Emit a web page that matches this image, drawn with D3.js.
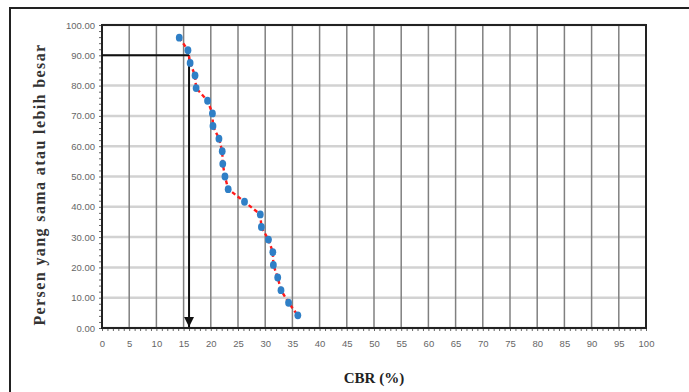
<!DOCTYPE html>
<html>
<head>
<meta charset="utf-8">
<script src="https://cdn.jsdelivr.net/npm/d3@7"></script>
<style>
  body { margin: 0; background: #fff; }
  svg { display: block; }
</style>
</head>
<body>
<div id="chart"></div>
<script>
// CBR values (sorted) and percent equal or greater
var cbr = [14.2, 15.8, 16.2, 17.1, 17.3, 19.4, 20.3, 20.4, 21.5, 22.1, 22.2, 22.6,
           23.2, 26.2, 29.1, 29.3, 30.6, 31.4, 31.5, 32.3, 32.9, 34.3, 36.0];
var persen = [95.83, 91.67, 87.50, 83.33, 79.17, 75.00, 70.83, 66.67, 62.50, 58.33,
              54.17, 50.00, 45.83, 41.67, 37.50, 33.33, 29.17, 25.00, 20.83, 16.67,
              12.50, 8.33, 4.17];
var xTicks = [0, 5, 10, 15, 20, 25, 30, 35, 40, 45, 50, 55, 60, 65, 70, 75, 80, 85, 90, 95, 100];
var yTicks = [0, 10, 20, 30, 40, 50, 60, 70, 80, 90, 100];
// 90% reading line -> CBR design value
var bacaPersen = 90, bacaCbr = 16;

var width = 689, height = 392;
var margin = {top: 25, right: 43, bottom: 64, left: 102};

var svg = d3.select("#chart").append("svg")
  .attr("width", width)
  .attr("height", height);

// outer frame (runs off right and bottom)
svg.append("rect")
  .attr("x", 10).attr("y", 8)
  .attr("width", 720).attr("height", 420)
  .attr("fill", "none")
  .attr("stroke", "#222")
  .attr("stroke-width", 2);

var x = d3.scaleLinear().domain([0, 100]).range([margin.left, width - margin.right]);
var y = d3.scaleLinear().domain([0, 100]).range([height - margin.bottom, margin.top]);

var g = svg.append("g");

// horizontal grid
g.append("g").selectAll("line")
  .data(yTicks)
  .enter().append("line")
  .attr("x1", x(0)).attr("x2", x(100))
  .attr("y1", function(d) { return y(d); })
  .attr("y2", function(d) { return y(d); })
  .style("stroke", "#d2d2d2")
  .style("stroke-width", 2.5);

// vertical grid
g.append("g").selectAll("line")
  .data(xTicks)
  .enter().append("line")
  .attr("x1", function(d) { return x(d); })
  .attr("x2", function(d) { return x(d); })
  .attr("y1", y(0)).attr("y2", y(100))
  .style("stroke", "#808080")
  .style("stroke-width", 1.5);

// minor ticks
g.append("g")
  .attr("transform", "translate(0," + y(0) + ")")
  .call(d3.axisBottom(x).ticks(100).tickSize(3).tickFormat(""))
  .call(function(a) { a.select(".domain").remove(); a.selectAll("line").style("stroke", "#666"); });
g.append("g")
  .attr("transform", "translate(" + x(0) + ",0)")
  .call(d3.axisLeft(y).ticks(50).tickSize(3).tickFormat(""))
  .call(function(a) { a.select(".domain").remove(); a.selectAll("line").style("stroke", "#666"); });

// plot border
g.append("rect")
  .attr("x", x(0)).attr("y", y(100))
  .attr("width", x(100) - x(0)).attr("height", y(0) - y(100))
  .attr("fill", "none")
  .style("stroke", "#222")
  .style("stroke-width", 2);

// tick labels
var xAxis = g.append("g")
  .attr("transform", "translate(0," + y(0) + ")")
  .call(d3.axisBottom(x).tickValues(xTicks).tickSize(0).tickPadding(12).tickFormat(d3.format("d")));
xAxis.select(".domain").remove();

var yAxis = g.append("g")
  .attr("transform", "translate(" + x(0) + ",0)")
  .call(d3.axisLeft(y).tickValues(yTicks).tickSize(0).tickPadding(7).tickFormat(d3.format(".2f")));
yAxis.select(".domain").remove();

svg.selectAll(".tick text")
  .style("font-family", "'Liberation Sans Narrow', 'Liberation Sans', sans-serif")
  .style("font-size", "9.5px")
  .style("fill", "#666");

// reading line with arrow
svg.append("defs").append("marker")
  .attr("id", "panah")
  .attr("viewBox", "0 0 10 10")
  .attr("refX", 10).attr("refY", 5)
  .attr("markerWidth", 5).attr("markerHeight", 5)
  .attr("orient", "auto")
  .append("path")
  .attr("d", "M0,0 L10,5 L0,10 z")
  .attr("fill", "#111");

g.append("line")
  .attr("x1", x(0)).attr("x2", x(bacaCbr))
  .attr("y1", y(bacaPersen)).attr("y2", y(bacaPersen))
  .style("stroke", "#111").style("stroke-width", 2);
g.append("line")
  .attr("x1", x(bacaCbr)).attr("x2", x(bacaCbr))
  .attr("y1", y(bacaPersen)).attr("y2", y(0) - 1)
  .style("stroke", "#111").style("stroke-width", 2)
  .attr("marker-end", "url(#panah)");

// data line
var data = cbr.map(function(d, i) { return {cbr: d, persen: persen[i]}; });

var line = d3.line()
  .x(function(d) { return x(d.cbr); })
  .y(function(d) { return y(d.persen); });

g.append("path")
  .datum(data)
  .attr("d", line)
  .attr("fill", "none")
  .style("stroke", "#ff1a1a")
  .style("stroke-width", 2.4)
  .style("stroke-dasharray", "4,3");

g.append("g").selectAll("ellipse")
  .data(data)
  .enter().append("ellipse")
  .attr("cx", function(d) { return x(d.cbr); })
  .attr("cy", function(d) { return y(d.persen); })
  .attr("rx", 3.4).attr("ry", 3.9)
  .attr("fill", "#2f7fc6");

// axis titles
svg.append("text")
  .attr("x", (x(0) + x(100)) / 2)
  .attr("y", 383)
  .attr("text-anchor", "middle")
  .style("font-family", "'Liberation Serif', 'Times New Roman', serif")
  .style("font-weight", "bold")
  .style("font-size", "15px")
  .style("fill", "#222")
  .text("CBR (%)");

svg.append("text")
  .attr("transform", "translate(45," + (y(50) + 8) + ") rotate(-90)")
  .attr("text-anchor", "middle")
  .style("font-family", "'Liberation Serif', 'Times New Roman', serif")
  .style("font-weight", "bold")
  .style("font-size", "16px")
  .style("fill", "#333")
  .style("letter-spacing", "1.4px")
  .text("Persen yang sama atau lebih besar");
</script>
</body>
</html>
